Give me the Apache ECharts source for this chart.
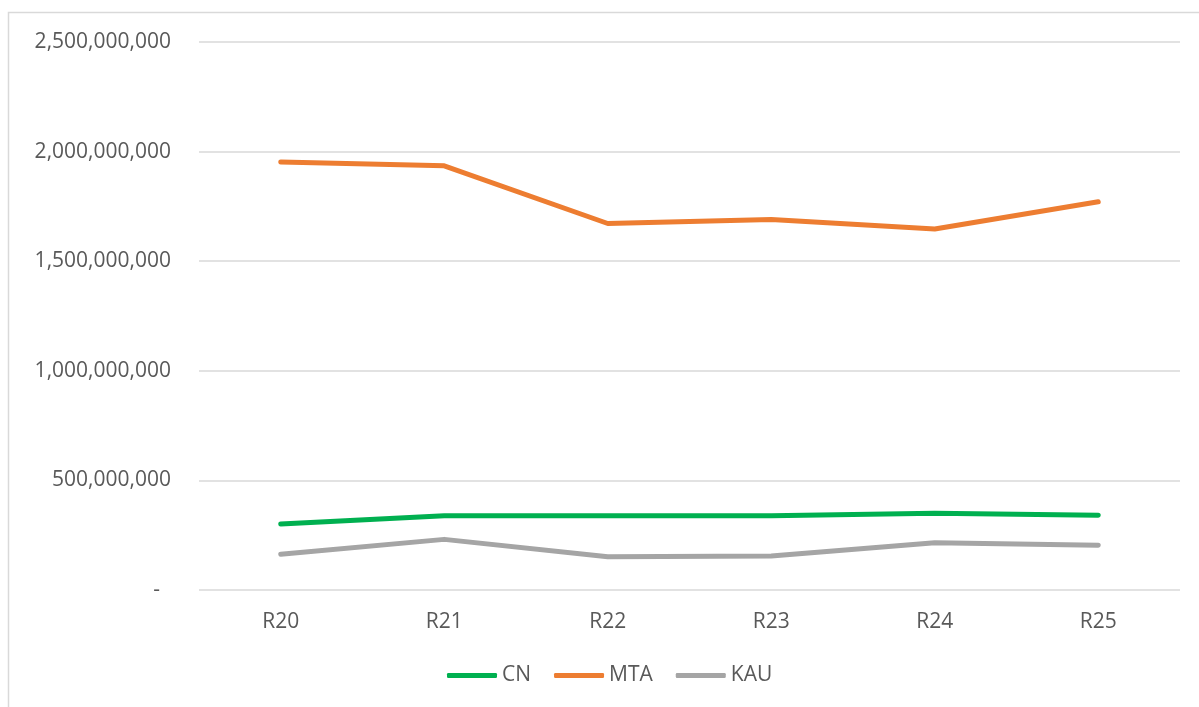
<!DOCTYPE html>
<html>
<head>
<meta charset="utf-8">
<script src="https://cdn.jsdelivr.net/npm/echarts@6/dist/echarts.min.js"></script>
<style>
html,body{margin:0;padding:0;background:#fff;}
#chart{width:1199px;height:707px;}
</style>
</head>
<body>
<div id="chart"></div>
<script>
const categories = ['R20', 'R21', 'R22', 'R23', 'R24', 'R25'];
const cnValues  = [301000000, 339000000, 339000000, 339000000, 350000000, 341000000];
const mtaValues = [1953000000, 1935000000, 1672000000, 1690000000, 1647000000, 1771000000];
const kauValues = [163000000, 231000000, 152000000, 155000000, 216000000, 204000000];
const yTicks = { min: 0, max: 2500000000, interval: 500000000 };

const chart = echarts.init(document.getElementById('chart'), null, { renderer: 'canvas' });
const font = '"Open Sans", "Noto Sans", sans-serif';
const textColor = '#595959';

function fmt(v) {
  if (v === 0) return '{dash|-}';
  return String(v).replace(/\B(?=(\d{3})+(?!\d))/g, ',');
}

chart.setOption({
  animation: false,
  backgroundColor: '#fff',
  graphic: [{
    type: 'rect',
    shape: { x: 8.5, y: 12.5, width: 1200, height: 710 },
    style: { fill: 'none', stroke: '#d9d9d9', lineWidth: 1.5 },
    silent: true
  }],
  grid: { left: 199, right: 19, top: 42, bottom: 117, containLabel: false },
  legend: {
    left: 447, top: 665, padding: 0,
    itemWidth: 50, itemHeight: 5, itemGap: 23,
    icon: 'roundRect',
    textStyle: { fontFamily: font, fontSize: 21, color: textColor, padding: [0, 0, 0, 0] },
    data: ['CN', 'MTA', 'KAU']
  },
  xAxis: {
    type: 'category',
    data: categories,
    boundaryGap: true,
    axisLine: { show: false },
    axisTick: { show: false },
    axisLabel: { fontFamily: font, fontSize: 21, color: textColor, margin: 22 }
  },
  yAxis: {
    type: 'value',
    min: yTicks.min, max: yTicks.max, interval: yTicks.interval,
    axisLine: { show: false },
    axisTick: { show: false },
    splitLine: { lineStyle: { color: '#d9d9d9', width: 1.5 } },
    axisLabel: {
      fontFamily: font, fontSize: 21, color: textColor, margin: 28,
      formatter: fmt,
      rich: { dash: { fontFamily: font, fontSize: 21, color: textColor, padding: [0, 11, 0, 0] } }
    }
  },
  series: [
    { name: 'CN', type: 'line', data: cnValues, showSymbol: false, symbol: 'none',
      lineStyle: { color: '#00B050', width: 5, cap: 'round', join: 'round' }, itemStyle: { color: '#00B050' } },
    { name: 'MTA', type: 'line', data: mtaValues, showSymbol: false, symbol: 'none',
      lineStyle: { color: '#ED7D31', width: 5, cap: 'round', join: 'round' }, itemStyle: { color: '#ED7D31' } },
    { name: 'KAU', type: 'line', data: kauValues, showSymbol: false, symbol: 'none',
      lineStyle: { color: '#A5A5A5', width: 5, cap: 'round', join: 'round' }, itemStyle: { color: '#A5A5A5' } }
  ]
});
</script>
</body>
</html>
